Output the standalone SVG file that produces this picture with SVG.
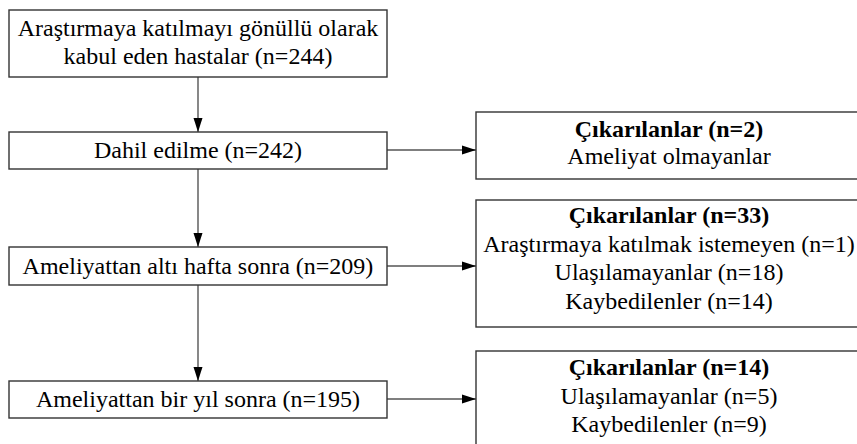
<svg xmlns="http://www.w3.org/2000/svg" width="857" height="444" viewBox="0 0 857 444">
<defs>
<style>
.box{fill:#fff;stroke:#333;stroke-width:1.4}
.t{font-size:24px;fill:#000;text-anchor:middle}
.b{font-weight:bold}
.c{stroke:#555;stroke-width:1.4;fill:none}
</style>
<marker id="ah" markerUnits="userSpaceOnUse" markerWidth="14" markerHeight="10" refX="14" refY="5" orient="auto">
<path d="M0,0.5 L14,5 L0,9.5 z" fill="#000"/>
</marker>
</defs>
<rect width="857" height="444" fill="#fff"/>
<g id="connectors">
<line class="c" x1="198" y1="77" x2="198" y2="132" marker-end="url(#ah)"/>
<line class="c" x1="198" y1="169" x2="198" y2="247" marker-end="url(#ah)"/>
<line class="c" x1="198" y1="285" x2="198" y2="381" marker-end="url(#ah)"/>
<line class="c" x1="387" y1="150" x2="476" y2="150" marker-end="url(#ah)"/>
<line class="c" x1="387" y1="266" x2="476" y2="266" marker-end="url(#ah)"/>
<line class="c" x1="387" y1="399" x2="476" y2="399" marker-end="url(#ah)"/>
</g>
<g font-family="Liberation Serif, Tinos, Times New Roman, DejaVu Serif, serif">
<g id="n1">
<rect class="box" x="9" y="10" width="378" height="67"/>
<text class="t" x="198" y="36">Araştırmaya katılmayı gönüllü olarak</text>
<text class="t" x="198" y="64">kabul eden hastalar (n=244)</text>
</g>
<g id="n2">
<rect class="box" x="9" y="132" width="378" height="37"/>
<text class="t" x="198" y="158">Dahil edilme (n=242)</text>
</g>
<g id="n3">
<rect class="box" x="9" y="247" width="378" height="38"/>
<text class="t" x="198" y="274">Ameliyattan altı hafta sonra (n=209)</text>
</g>
<g id="n4">
<rect class="box" x="9" y="381" width="378" height="37"/>
<text class="t" x="198" y="407">Ameliyattan bir yıl sonra (n=195)</text>
</g>
<g id="r1">
<rect class="box" x="476" y="112" width="386" height="67"/>
<text class="t b" x="669" y="137">Çıkarılanlar (n=2)</text>
<text class="t" x="669" y="164">Ameliyat olmayanlar</text>
</g>
<g id="r2">
<rect class="box" x="476" y="200" width="386" height="127"/>
<text class="t b" x="669" y="223">Çıkarılanlar (n=33)</text>
<text class="t" x="669" y="252">Araştırmaya katılmak istemeyen (n=1)</text>
<text class="t" x="669" y="280">Ulaşılamayanlar (n=18)</text>
<text class="t" x="669" y="309">Kaybedilenler (n=14)</text>
</g>
<g id="r3">
<rect class="box" x="476" y="351" width="386" height="110"/>
<text class="t b" x="669" y="375">Çıkarılanlar (n=14)</text>
<text class="t" x="669" y="404">Ulaşılamayanlar (n=5)</text>
<text class="t" x="669" y="432">Kaybedilenler (n=9)</text>
</g>
</g>
</svg>
